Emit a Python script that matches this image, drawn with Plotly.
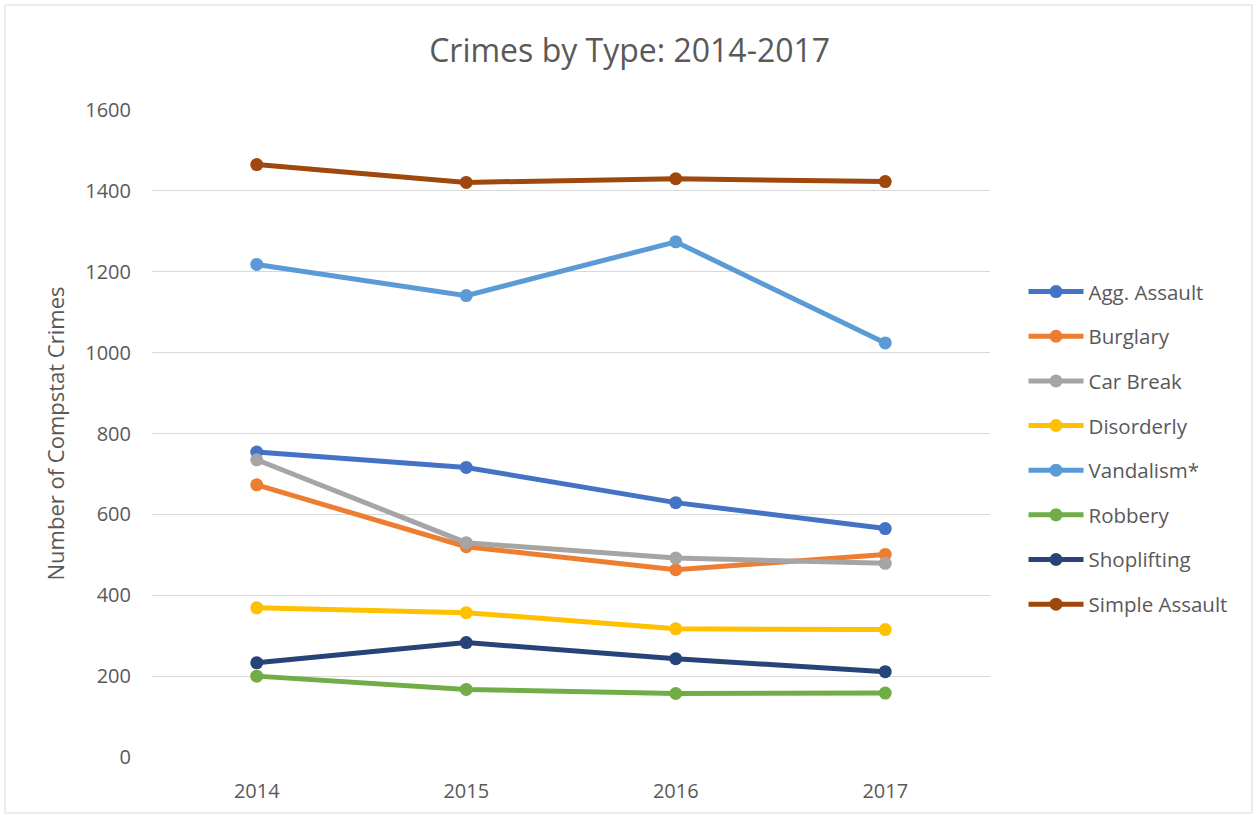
import plotly.graph_objects as go

years = ["2014", "2015", "2016", "2017"]
agg_assault = [754, 716, 629, 565]
burglary = [673, 520, 463, 501]
car_break = [735, 530, 492, 479]
disorderly = [369, 357, 317, 315]
vandalism = [1218, 1141, 1274, 1024]
robbery = [200, 167, 157, 158]
shoplifting = [233, 283, 243, 211]
simple_assault = [1465, 1421, 1430, 1423]

series_names = ["Agg. Assault", "Burglary", "Car Break", "Disorderly",
                "Vandalism*", "Robbery", "Shoplifting", "Simple Assault"]
series_values = [agg_assault, burglary, car_break, disorderly,
                 vandalism, robbery, shoplifting, simple_assault]
colors = ["#4472C4", "#ED7D31", "#A5A5A5", "#FFC000",
          "#5B9BD5", "#70AD47", "#264478", "#9E480E"]

font_family = "'Open Sans', sans-serif"
fig = go.Figure()
for name, vals, c in zip(series_names, series_values, colors):
    fig.add_trace(go.Scatter(
        x=years, y=vals, name=name, mode="lines+markers",
        legendgroup=name,
        line=dict(color=c, width=5),
        marker=dict(color=c, size=13),
    ))

fig.update_layout(
    width=1255, height=818,
    paper_bgcolor="white", plot_bgcolor="white",
    margin=dict(l=152, r=265, t=110, b=61),
    title=dict(text="Crimes by Type: 2014-2017", x=0.57, xanchor="center",
               xref="paper", y=0.938, yanchor="middle",
               font=dict(family=font_family, size=32, color="#595959")),
    font=dict(family=font_family, color="#595959"),
    xaxis=dict(type="category", showgrid=False, zeroline=False, showline=False,
               ticks="", ticklabelstandoff=20,
               tickfont=dict(size=20, color="#595959"),
               range=[-0.5, 3.5]),
    yaxis=dict(range=[0, 1600], dtick=200, showgrid=True, gridcolor="#D9D9D9",
               gridwidth=1, zeroline=False, showline=False, ticks="",
               ticklabelstandoff=20,
               tickfont=dict(size=20, color="#595959"),
               title=dict(text="Number of Compstat Crimes", standoff=14,
                          font=dict(size=22, color="#595959"))),
    legend=dict(x=1.04, y=0.75, xanchor="left", yanchor="top",
                traceorder="grouped", tracegroupgap=15, itemwidth=55,
                font=dict(size=20.5, color="#595959"),
                bgcolor="rgba(0,0,0,0)"),
    shapes=[dict(type="rect", xref="paper", yref="paper",
                 x0=-147/838, x1=1100/838, y0=-56/647, y1=752/647,
                 line=dict(color="#D9D9D9", width=1))],
)

fig.write_html("out.html")
